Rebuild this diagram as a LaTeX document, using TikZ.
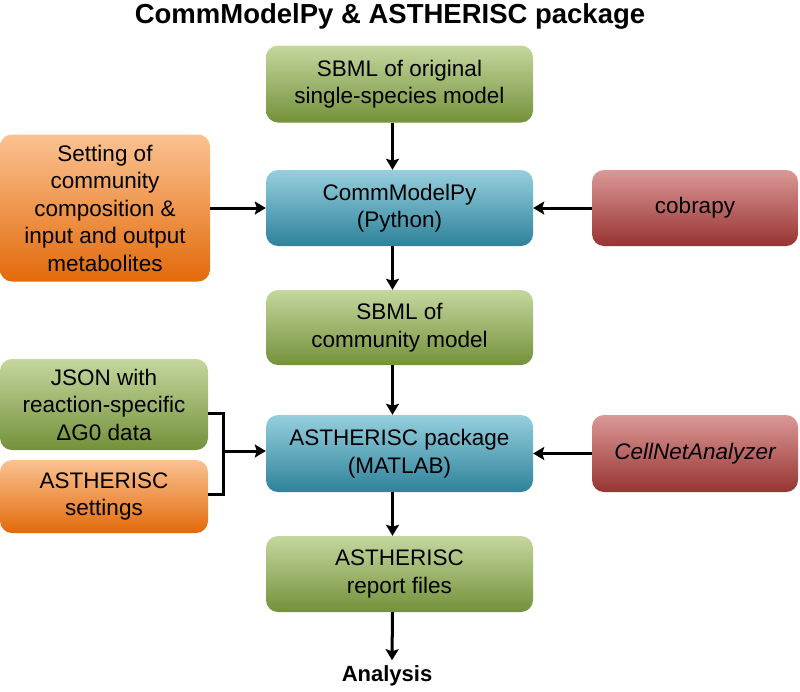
\documentclass[tikz,border=0pt]{standalone}
\usepackage{fontspec}
\setmainfont{Liberation Sans}
\usetikzlibrary{arrows.meta,calc}
\definecolor{gtop}{RGB}{196,215,158}
\definecolor{gbot}{RGB}{116,145,58}
\definecolor{btop}{RGB}{150,207,222}
\definecolor{bbot}{RGB}{46,130,154}
\definecolor{rtop}{RGB}{219,152,150}
\definecolor{rbot}{RGB}{150,52,50}
\definecolor{otop}{RGB}{251,194,146}
\definecolor{obot}{RGB}{226,106,10}
\tikzset{
  box/.style={rounded corners=12pt, inner sep=0pt, align=center,
    font=\fontsize{22.5}{27.5}\selectfont},
  greenbox/.style={box, top color=gtop, bottom color=gbot},
  bluebox/.style={box, top color=btop, bottom color=bbot},
  redbox/.style={box, top color=rtop, bottom color=rbot},
  orangebox/.style={box, top color=otop, bottom color=obot},
  conn/.style={line width=3pt, black},
  arr/.style={conn, -{Stealth[length=11pt,width=13pt,inset=2pt]}},
}
\begin{document}
\begin{tikzpicture}[x=1pt,y=-1pt]
\useasboundingbox (0,0) rectangle (800,691);
\node[font=\fontsize{27.5}{32}\selectfont\bfseries] (title) at (390,16) {CommModelPy \& ASTHERISC package};

\node[greenbox, minimum width=267pt, minimum height=77pt] (sbml1) at (399.5,84) {SBML of original\\single-species model};
\node[bluebox, minimum width=267pt, minimum height=76pt] (cmp) at (399.5,208) {CommModelPy\\(Python)};
\node[greenbox, minimum width=267pt, minimum height=75pt] (sbml2) at (399.5,327.5) {SBML of\\community model};
\node[bluebox, minimum width=267pt, minimum height=77pt] (ast) at (399.5,453.5) {ASTHERISC package\\(MATLAB)};
\node[greenbox, minimum width=267pt, minimum height=76pt] (rep) at (399.5,574) {ASTHERISC\\report files};
\node[font=\fontsize{22}{26}\selectfont\bfseries] (ana) at (387,676) {Analysis};

\node[orangebox, minimum width=210pt, minimum height=147pt] (comp) at (105,208) {Setting of\\community\\composition \&\\input and output\\metabolites};
\node[greenbox, minimum width=208pt, minimum height=91pt] (json) at (104,404.5) {JSON with\\reaction-specific\\ΔG0 data};
\node[orangebox, minimum width=208pt, minimum height=73pt] (set) at (104,496.5) {ASTHERISC\\settings};

\node[redbox, minimum width=206pt, minimum height=76pt] (cobra) at (695,208) {cobrapy};
\node[redbox, minimum width=206pt, minimum height=77pt] (cna) at (695,453.5) {\itshape CellNetAnalyzer};

\draw[arr] ([xshift=-7pt]sbml1.south) -- ([xshift=-7pt]cmp.north);
\draw[arr] ([xshift=-7pt]cmp.south) -- ([xshift=-7pt]sbml2.north);
\draw[arr] ([xshift=-7pt]sbml2.south) -- ([xshift=-7pt]ast.north);
\draw[arr] ([xshift=-7pt]ast.south) -- ([xshift=-7pt]rep.north);
\draw[arr] ([xshift=-7pt]rep.south) -- ([xshift=5pt,yshift=2pt]ana.north);

\draw[arr] (comp.east) -- (cmp.west);
\draw[arr] (cobra.west) -- (cmp.east);
\draw[arr] (cna.west) -- (ast.east);

\coordinate (bm) at (223,451);
\draw[conn] ([yshift=-8.5pt]json.east) -| (bm) |- ([yshift=2.5pt]set.east);
\draw[arr] (bm) -- (ast.west |- bm);
\end{tikzpicture}
\end{document}
